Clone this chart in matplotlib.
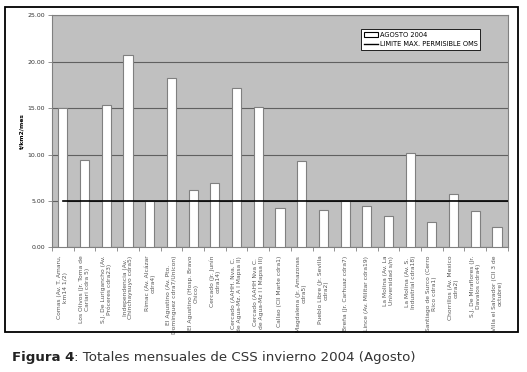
import numpy as np
import matplotlib.pyplot as plt
from matplotlib.patches import Rectangle
from matplotlib.lines import Line2D

# Stations (x tick labels)
stations = [
    "Comas (Av. T. Amaru,\nkm14 1/2)",
    "Los Olivos (Jr. Toma de\nCariari cdra 5)",
    "S.J. De Lurigancho (Av.\nPróceres cdra23)",
    "Independencia (Av.\nChinchaysuyo cdra5)",
    "Rimac (Av. Alcázar\ncdra4)",
    "El Agustino (Av. Pto.\nDominguez cdra7/Unicon)",
    "El Agustino (Hosp. Bravo\nChico)",
    "Cercado (Jr. Junín\ncdra14)",
    "Cercado (AAHH. Nva. C.\nde Agua-Mz. A I Mapsa II)",
    "Cercado (AAHH Nva C.\nde Agua-Mz I I Mapsa III)",
    "Callao (Cll Marte cdra1)",
    "Magdalena (Jr. Amazonas\ncdra5)",
    "Pueblo Libre (Jr. Sevilla\ncdra2)",
    "Breña (Jr. Carhuaz cdra7)",
    "Lince (Av. Militar cdra19)",
    "La Molina (Av. La\nUniversidad s/n)",
    "La Molina (Av. S.\nIndustrial cdra18)",
    "Santiago de Surco (Cerro\nRico cdra1)",
    "Chorrillos (Av. Mexico\ncdra2)",
    "S.J. De Miraflores (Jr.\nDavalos cdra4)",
    "Villa el Salvador (Cll 3 de\noctubre)",
]

# August 2004 monthly totals (t/km2/mes)
agosto_2004 = [15.0, 9.4, 15.3, 20.7, 5.0, 18.2, 6.2, 6.9, 17.2, 15.1,
               4.2, 9.3, 4.0, 5.0, 4.5, 3.4, 10.2, 2.7, 5.7, 3.9, 2.2]
limite_oms = 5.0
yticks = [0, 5, 10, 15, 20, 25]

fig = plt.figure(figsize=(5.27, 3.72), dpi=100)
fig.patch.set_facecolor('white')

# outer frame
fig.patches.append(Rectangle((0.0095, 0.1075), 0.974, 0.873, transform=fig.transFigure,
                             fill=False, edgecolor='black', linewidth=1.3))

ax = fig.add_axes([0.0987, 0.335, 0.865, 0.624])
ax.set_facecolor('#c0c0c0')

x = np.arange(len(stations))
ax.bar(x, agosto_2004, width=0.42, color='white', edgecolor='#808080', linewidth=0.8, zorder=3)
ax.plot([0, len(stations) - 0.5], [limite_oms, limite_oms], color='black', linewidth=1.2, zorder=4)

ax.set_xlim(-0.5, len(stations) - 0.5)
ax.set_ylim(0, 25)
ax.set_yticks(yticks)
ax.set_yticklabels(['%.2f' % v for v in yticks], fontsize=4.5, color='#333333')
ax.yaxis.grid(True, color='#606060', linewidth=0.8, zorder=1)
ax.set_axisbelow(True)

ax.set_xticks(x)
ax.set_xticklabels(stations, rotation=90, fontsize=4.3, color='#555555',
                   ha='center', va='top', multialignment='center')
ax.set_xticks(np.arange(-0.5, len(stations), 1), minor=True)
ax.tick_params(axis='x', which='major', length=0, pad=6)
ax.tick_params(axis='x', which='minor', length=3, color='#808080', width=0.6)
ax.tick_params(axis='y', length=3, color='#808080', width=0.6, pad=2)

for s in ax.spines.values():
    s.set_color('#808080')
    s.set_linewidth(0.8)

ax.set_ylabel('t/km2/mes', fontsize=4.3, fontweight='bold', labelpad=2)

handles = [Rectangle((0, 0), 1, 1, facecolor='white', edgecolor='black', linewidth=0.8),
           Line2D([0], [0], color='black', linewidth=1.0)]
leg = ax.legend(handles, ['AGOSTO 2004', 'LIMITE MAX. PERMISIBLE OMS'],
                loc='upper left', bbox_to_anchor=(0.678, 0.94), fontsize=4.8,
                frameon=True, fancybox=False, framealpha=1, edgecolor='black',
                handlelength=2.2, handleheight=0.6, handletextpad=0.2,
                borderpad=0.4, labelspacing=0.5, borderaxespad=0)
leg.get_frame().set_linewidth(0.6)

# caption: bold "Figura 4" followed by normal text
cap1 = fig.text(0.023, 0.03, 'Figura 4', fontsize=9.6, fontweight='bold', color='#222222')
fig.canvas.draw()
bb = cap1.get_window_extent(renderer=fig.canvas.get_renderer())
fig.text(bb.x1 / fig.bbox.width, 0.03, ': Totales mensuales de CSS invierno 2004 (Agosto)',
         fontsize=9.6, color='#333333')

fig.savefig('out.png', dpi=100)
